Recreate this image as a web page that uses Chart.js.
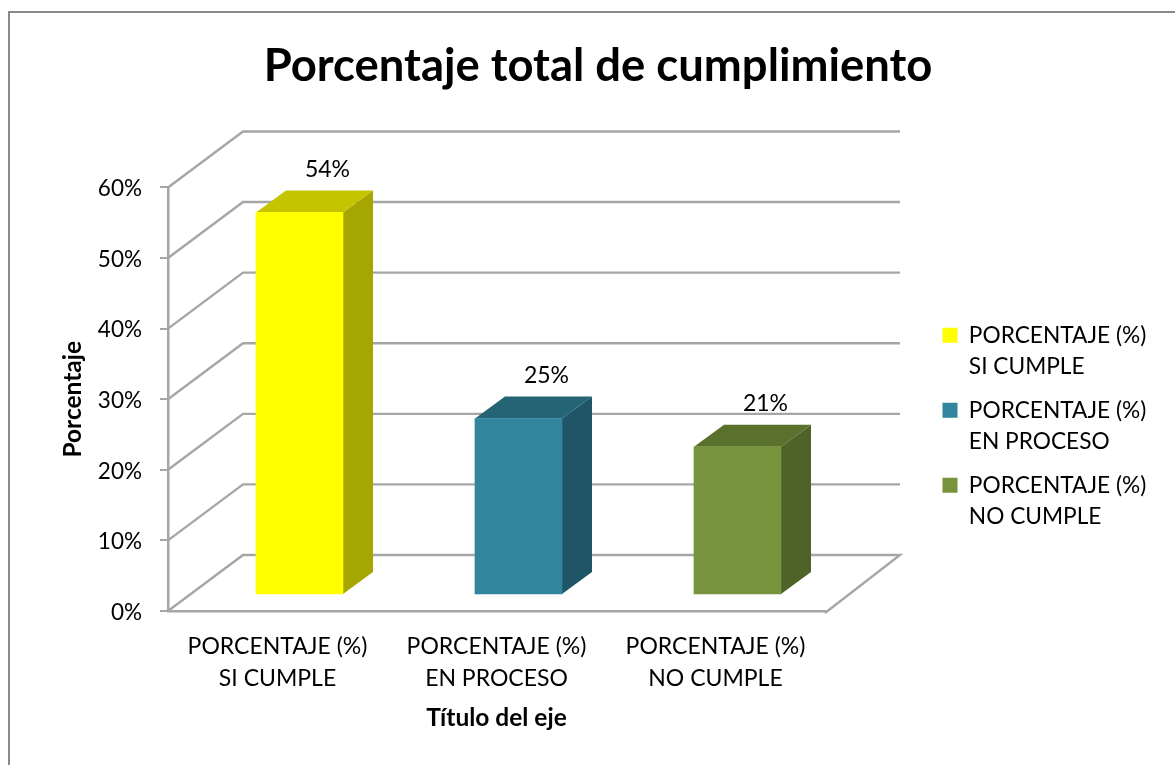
<!DOCTYPE html>
<html><head><meta charset="utf-8">
<style>
html,body{margin:0;padding:0;background:#fff;overflow:hidden;width:1175px;height:765px}
#frame{position:absolute;left:8px;top:11px;width:1300px;height:900px;border:2px solid #8a8a8a}
canvas{position:absolute;left:0;top:0}
</style>
<script src="https://cdn.jsdelivr.net/npm/chart.js@4"></script>
</head><body>
<div id="frame"></div>
<canvas id="c" width="1175" height="765"></canvas>
<script>
const categories = [["PORCENTAJE (%)","SI CUMPLE"],["PORCENTAJE (%)","EN PROCESO"],["PORCENTAJE (%)","NO CUMPLE"]];
const values = [54.2, 25, 21];
const valueLabels = ["54%","25%","21%"];
const frontColors = ["#ffff00","#31859c","#77933c"];
const topColors = ["#c4c400","#256475","#5a702d"];
const sideColors = ["#a6a600","#1f5566","#4f6228"];
const FONT = "Lato";
const GRID = "#a6a6a6";
const WALL = {dx:75, dy:-56};   // depth of the chart's back wall
const BAR = {dx:30, dy:-22, shiftX:22, shiftY:-16}; // depth of bar and its place on the floor

const scene3d = {
  id:"scene3d",
  beforeLayout(chart){
    const lg = chart.legend;
    if(lg && !lg._patched){
      const fit = lg.fit.bind(lg);
      lg.fit = function(){ fit(); this.width = 350; };
      lg._patched = true;
    }
  },
  afterLayout(chart){
    const lg = chart.legend;
    const w = lg.width, h = lg.height;
    lg.left = 929.5; lg.right = lg.left + w;
    lg.top = 311;  lg.bottom = lg.top + h;
  },
  beforeDatasetsDraw(chart){
    const {ctx, chartArea:a, scales:{y}} = chart;
    ctx.save();
    ctx.strokeStyle = GRID; ctx.lineWidth = 2.4; ctx.lineJoin = "miter";
    y.ticks.forEach(t=>{
      const py = y.getPixelForValue(t.value);
      ctx.beginPath();
      ctx.moveTo(a.left, py);
      ctx.lineTo(a.left+WALL.dx, py+WALL.dy);
      ctx.lineTo(a.right+WALL.dx, py+WALL.dy);
      if(t.value===0) ctx.lineTo(a.right, py+2);
      ctx.stroke();
    });
    ctx.restore();
    // side and top faces
    ctx.save();
    chart.getDatasetMeta(0).data.forEach((el,i)=>{
      const p = el.getProps(["x","y","base","width"],true);
      const l = p.x-p.width/2+BAR.shiftX, r = p.x+p.width/2+BAR.shiftX;
      const t = p.y+BAR.shiftY, b = p.base+BAR.shiftY;
      ctx.fillStyle = sideColors[i];
      ctx.beginPath();
      ctx.moveTo(r,t);ctx.lineTo(r+BAR.dx,t+BAR.dy);ctx.lineTo(r+BAR.dx,b+BAR.dy);ctx.lineTo(r,b);
      ctx.closePath();ctx.fill();
      ctx.fillStyle = topColors[i];
      ctx.beginPath();
      ctx.moveTo(l,t);ctx.lineTo(l+BAR.dx,t+BAR.dy);ctx.lineTo(r+BAR.dx,t+BAR.dy);ctx.lineTo(r,t);
      ctx.closePath();ctx.fill();
    });
    ctx.restore();
    ctx.save();
    ctx.translate(BAR.shiftX, BAR.shiftY);
  },
  afterDatasetsDraw(chart){
    const {ctx} = chart;
    ctx.restore();
    ctx.save();
    ctx.fillStyle = "#000";
    ctx.font = "23px "+FONT;
    ctx.textAlign = "center"; ctx.textBaseline = "middle";
    chart.getDatasetMeta(0).data.forEach((el,i)=>{
      const p = el.getProps(["x","y"],true);
      ctx.fillText(valueLabels[i], p.x+BAR.shiftX+28, p.y+BAR.shiftY-43);
    });
    ctx.restore();
  }
};

new Chart(document.getElementById("c"),{
  type:"bar",
  plugins:[scene3d],
  data:{labels:categories,datasets:[{
    label:"Porcentaje",
    data:values,
    backgroundColor:frontColors,
    barThickness:87,
    borderWidth:0,
    clip:false
  }]},
  options:{
    responsive:false,
    animation:false,
    devicePixelRatio:1,
    layout:{padding:{left:21,right:0,top:0,bottom:0}},
    events:[],
    plugins:{
      tooltip:{enabled:false},
      title:{display:true,text:"Porcentaje total de cumplimiento",color:"#000",
        font:{family:FONT,size:45.4,weight:"bold",lineHeight:1.2},
        padding:{top:39,bottom:94}},
      legend:{display:true,position:"right",align:"start",
        labels:{
          boxWidth:15,boxHeight:15,padding:13,color:"#000",
          font:{family:FONT,size:22.7,lineHeight:"31px"},
          generateLabels(){
            return categories.map((c,i)=>({text:c,fillStyle:frontColors[i],strokeStyle:frontColors[i],lineWidth:0,hidden:false,index:i}));
          }
        }}
    },
    scales:{
      x:{
        grid:{display:false},
        border:{display:true,color:GRID,width:2.5},
        ticks:{color:"#000",padding:12,maxRotation:0,autoSkip:false,font:{family:FONT,size:23,lineHeight:"32px"}},
        title:{display:true,text:"Título del eje",color:"#000",font:{family:FONT,size:24.5,weight:"bold",lineHeight:1.2},padding:{top:0,bottom:32}},
        afterFit(s){s.height=154;}
      },
      y:{
        min:0,max:60,
        grid:{color:GRID,lineWidth:2,drawOnChartArea:false,drawTicks:true,tickLength:8},
        border:{display:true,color:GRID,width:2.5},
        ticks:{stepSize:10,color:"#000",padding:18,labelOffset:1.5,font:{family:FONT,size:22.5},callback:v=>v+"%"},
        title:{display:true,text:"Porcentaje",color:"#000",font:{family:FONT,size:24.5,weight:"bold",lineHeight:1.2},padding:{top:37,bottom:0}},
        afterFit(s){s.width=147;}
      }
    }
  }
});
</script>
</body></html>
